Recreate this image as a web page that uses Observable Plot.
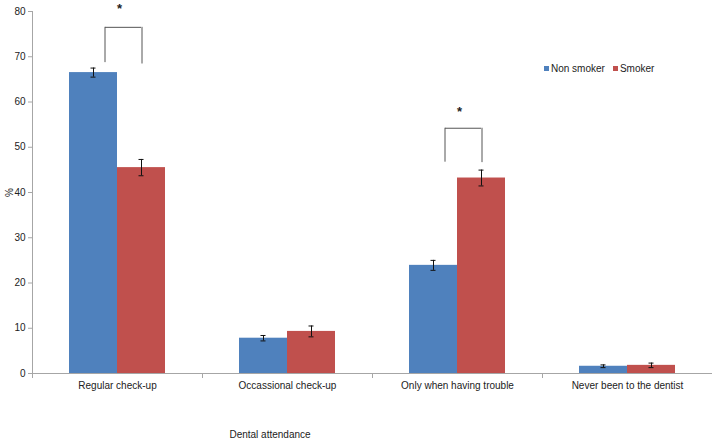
<!DOCTYPE html>
<html><head><meta charset="utf-8">
<script src="https://cdn.jsdelivr.net/npm/d3@7"></script>
<script src="https://cdn.jsdelivr.net/npm/@observablehq/plot@0.6"></script>
<style>
body{margin:0;background:#fff;font-family:"Liberation Sans",Arial,sans-serif;}
#wrap{position:relative;width:713px;height:440px;}
#legend{position:absolute;left:544px;top:63px;font-size:10px;color:#222;display:flex;gap:8px;line-height:12px;}
#legend span.sw{display:inline-block;width:5px;height:5px;margin-right:2px;vertical-align:1px;}
#xlabel{position:absolute;left:0;width:540px;top:429px;text-align:center;font-size:10px;color:#222;line-height:12px;}
</style></head>
<body><div id="wrap"><div id="chart"></div><div id="legend"></div><div id="xlabel"></div></div>
<script>
const categories = ["Regular check-up","Occassional check-up","Only when having trouble","Never been to the dentist"];
const series = ["Non smoker","Smoker"];
const nonSmoker = [66.5, 7.8, 23.9, 1.6];
const smoker = [45.5, 9.3, 43.2, 1.8];
const nonSmokerErr = [1.0, 0.6, 1.1, 0.3];
const smokerErr = [1.8, 1.2, 1.75, 0.5];
const colors = ["#4F81BD","#C0504D"];
const yTicks = [0,10,20,30,40,50,60,70,80];
const yLabel = "%";
const xLabel = "Dental attendance";
const bracketCategories = ["Regular check-up","Only when having trouble"];
const bracketTop = [76.5, 54.2];
const bracketLeftEnd = [68.7, 46.7];
const bracketRightEnd = [68.4, 46.6];
const starLevel = [81.8, 58.9];

const data = categories.flatMap((c,i)=>[
  {category:c, series:series[0], value:nonSmoker[i], err:nonSmokerErr[i]},
  {category:c, series:series[1], value:smoker[i], err:smokerErr[i]}
]);
const brackets = bracketCategories.map((c,i)=>({category:c, top:bracketTop[i], left:bracketLeftEnd[i], right:bracketRightEnd[i], star:starLevel[i]}));

const axisGray = "#a6a6a6";
const chart = Plot.plot({
  width:713, height:410,
  marginTop:11, marginLeft:32, marginRight:1, marginBottom:37,
  style:{fontFamily:"'Liberation Sans', Arial, sans-serif", fontSize:"10px", color:"#222", background:"#fff", overflow:"visible"},
  fx:{domain:categories, padding:0, label:null},
  x:{domain:series, paddingInner:0, paddingOuter:0.735, axis:null},
  y:{domain:[0,80], axis:null},
  color:{domain:series, range:colors},
  marks:[
    Plot.barY(data, {fx:"category", x:"series", y:"value", fill:"series"}),
    Plot.ruleY([0], {stroke:axisGray}),
    Plot.frame({anchor:"left", stroke:axisGray, facetAnchor:"left"}),
    Plot.frame({anchor:"left", stroke:axisGray, insetTop:362, insetBottom:-4}),
    Plot.axisY({ticks:yTicks, tickSize:4, tickPadding:3, stroke:axisGray, label:yLabel, labelAnchor:"center", labelArrow:"none", labelOffset:27, tickFormat:d3.format("d")}),
    Plot.axisFx({anchor:"bottom", tickSize:0, tickPadding:8, label:null}),
    Plot.ruleX(data, {fx:"category", x:"series", y1:d=>d.value-d.err, y2:d=>d.value+d.err, stroke:"#111"}),
    Plot.tickY(data, {fx:"category", x:"series", y:d=>d.value-d.err, stroke:"#111", insetLeft:21.5, insetRight:21.5}),
    Plot.tickY(data, {fx:"category", x:"series", y:d=>d.value+d.err, stroke:"#111", insetLeft:21.5, insetRight:21.5}),
    Plot.ruleX(brackets, {fx:"category", x:()=>series[0], y1:"left", y2:"top", dx:11.5, stroke:"#555"}),
    Plot.ruleX(brackets, {fx:"category", x:()=>series[1], y1:"right", y2:"top", dx:0.5, stroke:"#555"}),
    Plot.ruleY(brackets, {fx:"category", x1:()=>series[0], x2:()=>series[1], y:"top", insetLeft:36, insetRight:24, stroke:"#555"}),
    Plot.text(brackets, {fx:"category", x:()=>series[0], y:"star", text:()=>"*", dx:26, dy:5, fontSize:13, fontWeight:"bold", fill:"#222"})
  ]
});
document.getElementById("chart").appendChild(chart);
const lg = document.getElementById("legend");
series.forEach((s,i)=>{
  const item = document.createElement("div");
  item.innerHTML = `<span class="sw" style="background:${colors[i]}"></span>${s}`;
  lg.appendChild(item);
});
document.getElementById("xlabel").textContent = xLabel;
</script>
</body></html>
